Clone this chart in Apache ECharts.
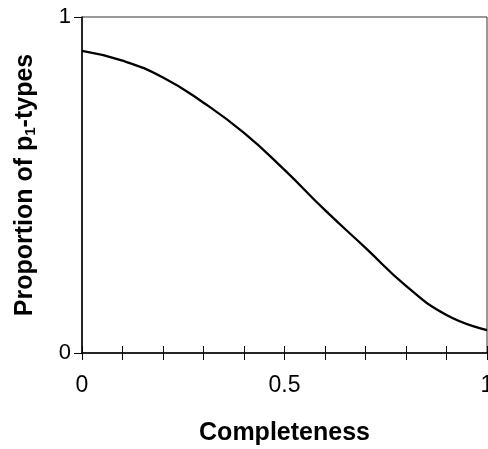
<!DOCTYPE html>
<html>
<head>
<meta charset="utf-8">
<script src="https://cdn.jsdelivr.net/npm/echarts@6/dist/echarts.min.js"></script>
<style>
  html, body { margin: 0; padding: 0; background: #fff; }
  #chart { width: 488px; height: 449px; }
</style>
</head>
<body>
<div id="chart"></div>
<script>
// completeness values (x) and proportion of p1-types (y)
const completeness = [0, 0.1, 0.2, 0.3, 0.4, 0.5, 0.6, 0.7, 0.8, 0.9, 1.0];
const proportion = [0.899, 0.870, 0.820, 0.745, 0.655, 0.545, 0.425, 0.313, 0.200, 0.113, 0.068];

var myChart = echarts.init(document.getElementById('chart'));

var fontFamily = '"Liberation Sans", Arial, sans-serif';

var option = {
  animation: false,
  grid: {
    left: 82,
    top: 17,
    right: 1,
    bottom: 96,
    outerBoundsMode: 'none',
    containLabel: false,
    show: true,
    borderColor: '#333',
    borderWidth: 1
  },
  xAxis: [
    {
      type: 'value',
      min: 0,
      max: 1,
      interval: 0.5,
      name: 'Completeness',
      nameLocation: 'middle',
      nameGap: 68,
      nameTextStyle: { fontFamily: fontFamily, fontSize: 25, fontWeight: 'bold', color: '#000' },
      axisLine: { show: true, lineStyle: { color: '#000', width: 1.5 } },
      axisTick: { show: false },
      splitLine: { show: false },
      axisLabel: { fontFamily: fontFamily, fontSize: 23, color: '#000', margin: 21, showMaxLabel: true }
    },
    {
      // tick marks crossing the bottom axis: outer half
      type: 'value',
      position: 'bottom',
      min: 0,
      max: 1,
      interval: 0.1,
      axisLine: { show: false },
      axisTick: { show: true, inside: false, length: 7, lineStyle: { color: '#000', width: 1 } },
      axisLabel: { show: false },
      splitLine: { show: false }
    },
    {
      // inner half
      type: 'value',
      position: 'bottom',
      min: 0,
      max: 1,
      interval: 0.1,
      axisLine: { show: false },
      axisTick: { show: true, inside: true, length: 7, lineStyle: { color: '#000', width: 1 } },
      axisLabel: { show: false },
      splitLine: { show: false }
    }
  ],
  yAxis: {
    type: 'value',
    min: 0,
    max: 1,
    interval: 1,
    name: 'Proportion of p{sub|1}-types',
    nameLocation: 'middle',
    nameGap: 44,
    nameTextStyle: {
      fontFamily: fontFamily, fontSize: 25, fontWeight: 'bold', color: '#000',
      rich: {
        sub: { fontFamily: fontFamily, fontSize: 15, fontWeight: 'bold', color: '#000', verticalAlign: 'bottom', padding: [9, 0, 0, 0] }
      }
    },
    axisLine: { show: true, lineStyle: { color: '#000', width: 1.5 } },
    axisTick: { show: true, length: 8, lineStyle: { color: '#000' } },
    splitLine: { show: false },
    axisLabel: { fontFamily: fontFamily, fontSize: 22, color: '#000', margin: 11 }
  },
  series: [
    {
      type: 'line',
      xAxisIndex: 0,
      data: completeness.map((x, i) => [x, proportion[i]]),
      smooth: true,
      showSymbol: false,
      lineStyle: { color: '#000', width: 2.3 }
    }
  ]
};

myChart.setOption(option);
</script>
</body>
</html>
